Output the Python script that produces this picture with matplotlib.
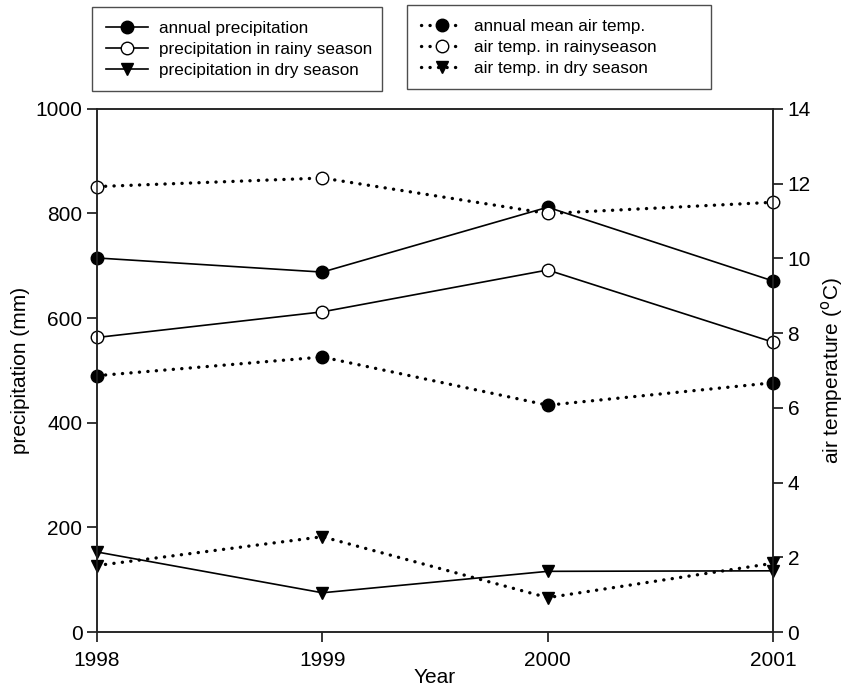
import matplotlib
matplotlib.use("Agg")
import matplotlib.pyplot as plt

plt.rcParams['font.family'] = ['Liberation Sans', 'DejaVu Sans']

years = [1998, 1999, 2000, 2001]

# precipitation (mm)
precip_annual = [715, 688, 812, 671]
precip_rainy = [563, 612, 692, 554]
precip_dry = [153, 75, 116, 117]

# air temperature (deg C)
temp_annual = [6.86, 7.36, 6.07, 6.67]
temp_rainy = [11.92, 12.15, 11.20, 11.50]
temp_dry = [1.78, 2.55, 0.92, 1.84]

precip_labels = ['annual precipitation', 'precipitation in rainy season',
                 'precipitation in dry season']
temp_labels = ['annual mean air temp.', 'air temp. in rainyseason',
               'air temp. in dry season']

fig = plt.figure(figsize=(8.54, 6.89), dpi=100)
ax = fig.add_axes([0.1136, 0.0827, 0.7916, 0.7593])
ax2 = ax.twinx()

ms = 9
solid = dict(color='black', lw=1.2, clip_on=False)
dotted = dict(color='black', lw=2.4, linestyle=(0, (0.05, 2.5)),
              dash_capstyle='round', clip_on=False)

h1 = ax.plot(years, precip_annual, marker='o', ms=ms, mfc='black', mec='black', **solid)[0]
h2 = ax.plot(years, precip_rainy, marker='o', ms=ms, mfc='white', mec='black', mew=1.0, **solid)[0]
h3 = ax.plot(years, precip_dry, marker='v', ms=ms, mfc='black', mec='black', **solid)[0]

t1 = ax2.plot(years, temp_annual, marker='o', ms=ms, mfc='black', mec='black', mew=1.0, **dotted)[0]
t2 = ax2.plot(years, temp_rainy, marker='o', ms=ms, mfc='white', mec='black', mew=1.0, **dotted)[0]
t3 = ax2.plot(years, temp_dry, marker='v', ms=ms, mfc='black', mec='black', mew=1.0, **dotted)[0]

for a in (ax, ax2):
    a.set_xlim(1998, 2001)
    for s in a.spines.values():
        s.set_linewidth(1.1)
        s.set_color('#222222')
    a.tick_params(direction='out', length=7, width=1.1, labelsize=15, colors='black')

ax.set_ylim(0, 1000)
ax.set_yticks(range(0, 1001, 200))
ax2.set_ylim(0, 14)
ax2.set_yticks(range(0, 15, 2))
ax.set_xticks(years)
ax.set_xticklabels([str(y) for y in years])
ax.tick_params(axis='x', pad=7)

ax.set_xlabel('Year', fontsize=15, labelpad=-2)
ax.set_ylabel('precipitation (mm)', fontsize=15, labelpad=4)
ax2.set_ylabel('air temperature ($^{\\rm o}$C)', fontsize=15, labelpad=6)

leg_kw = dict(fontsize=12.3, frameon=True, fancybox=False, edgecolor='#222222',
              handlelength=2.5, handletextpad=0.6, labelspacing=0.35,
              borderpad=0.8, borderaxespad=0, loc='upper left', mode='expand')
leg1 = fig.legend([h1, h2, h3], precip_labels,
                  bbox_to_anchor=(0.1077, 0.85, 0.3396, 0.1398), **leg_kw)
leg2 = fig.legend([t1, t2, t3], temp_labels,
                  bbox_to_anchor=(0.4766, 0.85, 0.356, 0.1427), **leg_kw)
for lg in (leg1, leg2):
    lg.get_frame().set_linewidth(1.0)

fig.savefig('out.png', dpi=100)
